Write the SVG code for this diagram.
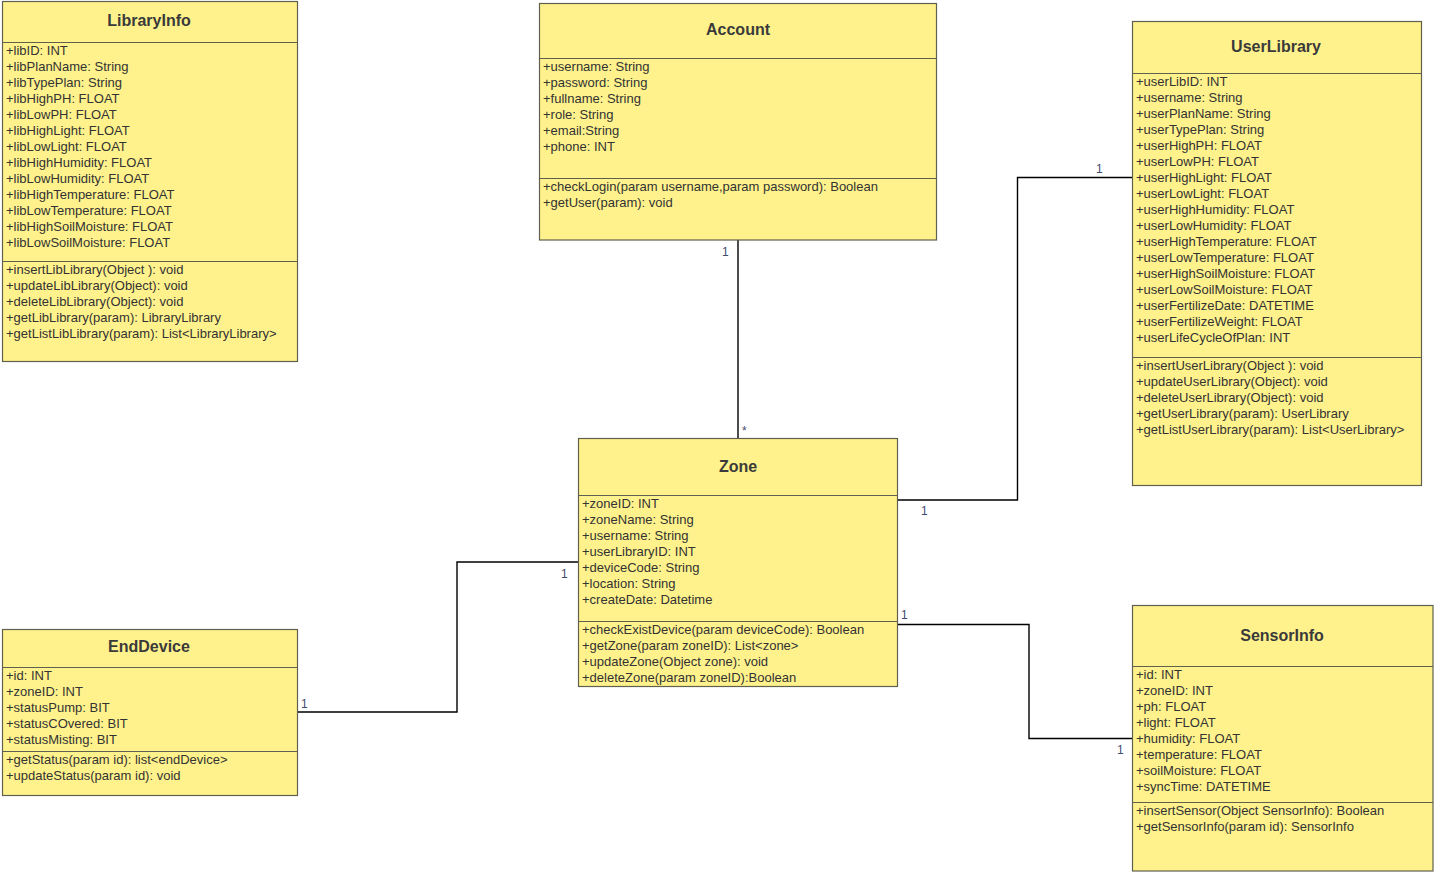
<svg xmlns="http://www.w3.org/2000/svg" width="1434" height="873" viewBox="0 0 1434 873">
<style>
.box{fill:#fff28c;stroke:#60604e;stroke-width:1.2}
.sep{stroke:#60604e;stroke-width:1.2;fill:none}
.title{font-family:"Liberation Sans",Arial,sans-serif;font-size:16px;font-weight:bold;fill:#3a3a3a;text-anchor:middle}
.m{font-family:"Liberation Sans",Arial,sans-serif;font-size:13px;fill:#333333}
.conn{stroke:#000;stroke-width:1.4;fill:none}
.lbl{font-family:"Liberation Sans",Arial,sans-serif;font-size:12px;fill:#3f4a6e}
</style>
<rect width="1434" height="873" fill="#ffffff"/>
<g id="connectors">
<polyline class="conn" points="738,240 738,438"/>
<polyline class="conn" points="897,500 1017.5,500 1017.5,177.5 1132,177.5"/>
<polyline class="conn" points="297,712 457,712 457,562 578,562"/>
<polyline class="conn" points="897,624.5 1029,624.5 1029,738.5 1132,738.5"/>
<text class="lbl" x="722" y="256">1</text>
<text class="lbl" x="742" y="435">*</text>
<text class="lbl" x="921" y="515">1</text>
<text class="lbl" x="1096" y="173">1</text>
<text class="lbl" x="561" y="578">1</text>
<text class="lbl" x="301" y="708">1</text>
<text class="lbl" x="901" y="619">1</text>
<text class="lbl" x="1117" y="754">1</text>
</g>
<g id="LibraryInfo">
<rect class="box" x="2.5" y="1.5" width="295" height="360"/>
<line class="sep" x1="2.5" y1="42.5" x2="297.5" y2="42.5"/>
<line class="sep" x1="2.5" y1="261.5" x2="297.5" y2="261.5"/>
<text class="title" x="149" y="26">LibraryInfo</text>
<text class="m" x="6" y="55">+libID: INT</text>
<text class="m" x="6" y="71">+libPlanName: String</text>
<text class="m" x="6" y="87">+libTypePlan: String</text>
<text class="m" x="6" y="103">+libHighPH: FLOAT</text>
<text class="m" x="6" y="119">+libLowPH: FLOAT</text>
<text class="m" x="6" y="135">+libHighLight: FLOAT</text>
<text class="m" x="6" y="151">+libLowLight: FLOAT</text>
<text class="m" x="6" y="167">+libHighHumidity: FLOAT</text>
<text class="m" x="6" y="183">+libLowHumidity: FLOAT</text>
<text class="m" x="6" y="199">+libHighTemperature: FLOAT</text>
<text class="m" x="6" y="215">+libLowTemperature: FLOAT</text>
<text class="m" x="6" y="231">+libHighSoilMoisture: FLOAT</text>
<text class="m" x="6" y="247">+libLowSoilMoisture: FLOAT</text>
<text class="m" x="6" y="274">+insertLibLibrary(Object ): void</text>
<text class="m" x="6" y="290">+updateLibLibrary(Object): void</text>
<text class="m" x="6" y="306">+deleteLibLibrary(Object): void</text>
<text class="m" x="6" y="322">+getLibLibrary(param): LibraryLibrary</text>
<text class="m" x="6" y="338">+getListLibLibrary(param): List&lt;LibraryLibrary&gt;</text>
</g>
<g id="Account">
<rect class="box" x="539.5" y="3.5" width="397" height="236.5"/>
<line class="sep" x1="539.5" y1="58.5" x2="936.5" y2="58.5"/>
<line class="sep" x1="539.5" y1="178.5" x2="936.5" y2="178.5"/>
<text class="title" x="738" y="35">Account</text>
<text class="m" x="543" y="71">+username: String</text>
<text class="m" x="543" y="87">+password: String</text>
<text class="m" x="543" y="103">+fullname: String</text>
<text class="m" x="543" y="119">+role: String</text>
<text class="m" x="543" y="135">+email:String</text>
<text class="m" x="543" y="151">+phone: INT</text>
<text class="m" x="543" y="191">+checkLogin(param username,param password): Boolean</text>
<text class="m" x="543" y="207">+getUser(param): void</text>
</g>
<g id="UserLibrary">
<rect class="box" x="1132.5" y="21.5" width="289" height="464"/>
<line class="sep" x1="1132.5" y1="73.5" x2="1421.5" y2="73.5"/>
<line class="sep" x1="1132.5" y1="357.5" x2="1421.5" y2="357.5"/>
<text class="title" x="1276" y="52">UserLibrary</text>
<text class="m" x="1136" y="86">+userLibID: INT</text>
<text class="m" x="1136" y="102">+username: String</text>
<text class="m" x="1136" y="118">+userPlanName: String</text>
<text class="m" x="1136" y="134">+userTypePlan: String</text>
<text class="m" x="1136" y="150">+userHighPH: FLOAT</text>
<text class="m" x="1136" y="166">+userLowPH: FLOAT</text>
<text class="m" x="1136" y="182">+userHighLight: FLOAT</text>
<text class="m" x="1136" y="198">+userLowLight: FLOAT</text>
<text class="m" x="1136" y="214">+userHighHumidity: FLOAT</text>
<text class="m" x="1136" y="230">+userLowHumidity: FLOAT</text>
<text class="m" x="1136" y="246">+userHighTemperature: FLOAT</text>
<text class="m" x="1136" y="262">+userLowTemperature: FLOAT</text>
<text class="m" x="1136" y="278">+userHighSoilMoisture: FLOAT</text>
<text class="m" x="1136" y="294">+userLowSoilMoisture: FLOAT</text>
<text class="m" x="1136" y="310">+userFertilizeDate: DATETIME</text>
<text class="m" x="1136" y="326">+userFertilizeWeight: FLOAT</text>
<text class="m" x="1136" y="342">+userLifeCycleOfPlan: INT</text>
<text class="m" x="1136" y="370">+insertUserLibrary(Object ): void</text>
<text class="m" x="1136" y="386">+updateUserLibrary(Object): void</text>
<text class="m" x="1136" y="402">+deleteUserLibrary(Object): void</text>
<text class="m" x="1136" y="418">+getUserLibrary(param): UserLibrary</text>
<text class="m" x="1136" y="434">+getListUserLibrary(param): List&lt;UserLibrary&gt;</text>
</g>
<g id="Zone">
<rect class="box" x="578.5" y="438.5" width="319" height="248"/>
<line class="sep" x1="578.5" y1="495.5" x2="897.5" y2="495.5"/>
<line class="sep" x1="578.5" y1="621.5" x2="897.5" y2="621.5"/>
<text class="title" x="738" y="472">Zone</text>
<text class="m" x="582" y="508">+zoneID: INT</text>
<text class="m" x="582" y="524">+zoneName: String</text>
<text class="m" x="582" y="540">+username: String</text>
<text class="m" x="582" y="556">+userLibraryID: INT</text>
<text class="m" x="582" y="572">+deviceCode: String</text>
<text class="m" x="582" y="588">+location: String</text>
<text class="m" x="582" y="604">+createDate: Datetime</text>
<text class="m" x="582" y="634">+checkExistDevice(param deviceCode): Boolean</text>
<text class="m" x="582" y="650">+getZone(param zoneID): List&lt;zone&gt;</text>
<text class="m" x="582" y="666">+updateZone(Object zone): void</text>
<text class="m" x="582" y="682">+deleteZone(param zoneID):Boolean</text>
</g>
<g id="EndDevice">
<rect class="box" x="2.5" y="629.5" width="295" height="166"/>
<line class="sep" x1="2.5" y1="667.5" x2="297.5" y2="667.5"/>
<line class="sep" x1="2.5" y1="751.5" x2="297.5" y2="751.5"/>
<text class="title" x="149" y="652">EndDevice</text>
<text class="m" x="6" y="680">+id: INT</text>
<text class="m" x="6" y="696">+zoneID: INT</text>
<text class="m" x="6" y="712">+statusPump: BIT</text>
<text class="m" x="6" y="728">+statusCOvered: BIT</text>
<text class="m" x="6" y="744">+statusMisting: BIT</text>
<text class="m" x="6" y="764">+getStatus(param id): list&lt;endDevice&gt;</text>
<text class="m" x="6" y="780">+updateStatus(param id): void</text>
</g>
<g id="SensorInfo">
<rect class="box" x="1132.5" y="605.5" width="300.5" height="265.5"/>
<line class="sep" x1="1132.5" y1="666.5" x2="1433" y2="666.5"/>
<line class="sep" x1="1132.5" y1="802.5" x2="1433" y2="802.5"/>
<text class="title" x="1282" y="641">SensorInfo</text>
<text class="m" x="1136" y="679">+id: INT</text>
<text class="m" x="1136" y="695">+zoneID: INT</text>
<text class="m" x="1136" y="711">+ph: FLOAT</text>
<text class="m" x="1136" y="727">+light: FLOAT</text>
<text class="m" x="1136" y="743">+humidity: FLOAT</text>
<text class="m" x="1136" y="759">+temperature: FLOAT</text>
<text class="m" x="1136" y="775">+soilMoisture: FLOAT</text>
<text class="m" x="1136" y="791">+syncTime: DATETIME</text>
<text class="m" x="1136" y="815">+insertSensor(Object SensorInfo): Boolean</text>
<text class="m" x="1136" y="831">+getSensorInfo(param id): SensorInfo</text>
</g>
</svg>
